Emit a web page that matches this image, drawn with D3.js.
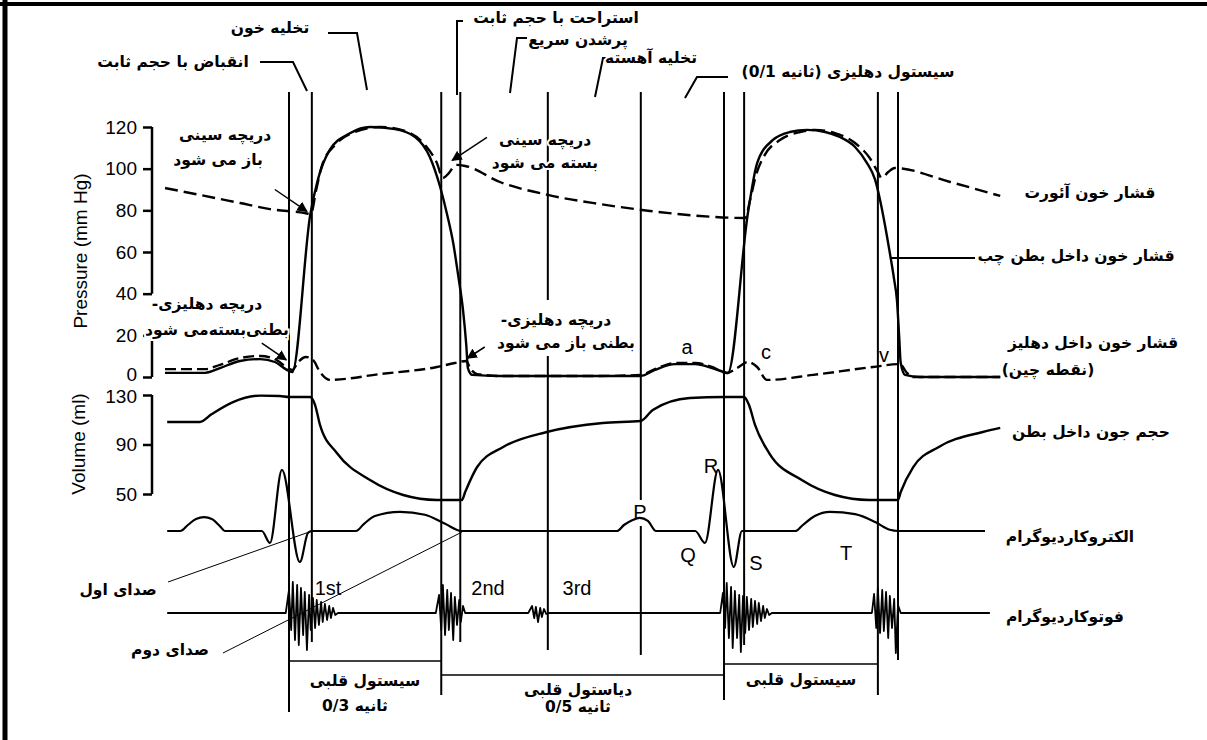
<!DOCTYPE html>
<html><head><meta charset="utf-8">
<script src="https://cdn.jsdelivr.net/npm/d3@7/dist/d3.min.js"></script>
<style>
body{margin:0;background:#fff}
svg{display:block}
.fa{font-family:"DejaVu Sans",sans-serif;font-weight:bold;font-size:15.5px;fill:#000}
.en{font-family:"Liberation Sans",Arial,sans-serif;fill:#000}
</style>
</head><body>
<svg id="c" width="1207" height="740"></svg>
<script>
// ---------------- DATA (time in ms, 0 = closure of the AV valve) ----------------
const eventTimes = [0, 42, 280, 315, 476, 647, 800, 837, 1083, 1120];
const pressureTicks = [0, 20, 40, 60, 80, 100, 120];
const volumeTicks = [50, 90, 130];

// aortic pressure (mm Hg)
const aorticPressure = [[-228,90.7],[-164,87.4],[-90,83.5],[-35,80.6],[29,78.7],[40,78.2],[50,89.8],[61,101.8],[85,111.4],[121,117.6],[167,120],[213,118.1],[250,111.4],[272,102.7],[283,95.5],[294,97.9],[307,101.8],[324,101.3],[388,93.6],[476,87.4],[572,83],[664,79.7],[756,77.3],[839,76.3],[848,85],[859,97],[875,106.6],[903,113.8],[940,117.6],[967,118.6],[1004,117.1],[1041,112.3],[1068,105.1],[1083,98.4],[1090,95.5],[1102,98.4],[1114,100.3],[1216,93.6],[1308,86.9]];
// left ventricular pressure (mm Hg)
const ventricularPressure = [[-228,2],[-154,2],[-127,4.3],[-90,7.7],[-53,8.6],[-26,7.2],[0,2.9],[6,2.4],[39,77.8],[53,94.6],[75,109],[112,117],[149,120],[195,119],[232,115.2],[259,105.6],[278,91.2],[291,77.8],[302,64.3],[311,49],[320,32.2],[326,15.4],[329,4.3],[337,1],[388,0.5],[572,0.5],[647,0.5],[673,3.4],[710,6.2],[747,6.2],[778,4.3],[800,2.4],[807,1.9],[844,78.7],[861,102.7],[890,113.8],[921,117.6],[953,118.6],[986,117.6],[1013,115.2],[1041,110.4],[1063,102.7],[1078,94.6],[1087,85],[1096,73],[1105,59.5],[1113,46.6],[1118,37],[1122,20.2],[1125,6.7],[1133,1],[1160,0],[1308,0]];
// left atrial pressure (mm Hg)
const atrialPressure = [[-228,3.8],[-154,3.8],[-127,5.8],[-90,9.1],[-53,10.1],[-26,8.6],[-2,4.3],[6,3.4],[17,7.2],[31,9.6],[44,8.2],[57,2.4],[75,-1.4],[167,1.4],[272,4.8],[305,6.7],[326,7.7],[333,4.3],[346,1.4],[388,0.5],[572,0.5],[647,1],[673,3.8],[710,6.7],[747,6.7],[778,4.8],[805,1.9],[824,4.3],[844,7.2],[861,4.8],[879,-1.4],[964,1],[1074,4.8],[1124,6.2],[1135,2.4],[1147,0],[1308,0]];
// ventricular volume (ml)
const ventricularVolume = [[-224,108.2],[-164,108.2],[-142,114.6],[-103,124.3],[-53,129.5],[-17,129.2],[0,128.4],[39,128.4],[48,121.9],[57,105.8],[88,83.1],[149,61.3],[210,49.2],[272,45.2],[318,45.2],[324,51.6],[346,71.8],[394,88],[474,100.1],[577,107.4],[647,109],[669,117.9],[737,127.6],[800,128.4],[837,128.4],[846,121.9],[857,105.8],[883,83.1],[943,61.3],[1004,49.2],[1067,45.2],[1120,45.2],[1125,51.6],[1148,71.8],[1195,88],[1276,100.1],[1308,103.4]];
// electrocardiogram (mV)
const ecg = [[-224,0],[-200,0],[-186,0.1],[-171,0.2],[-156,0.23],[-142,0.2],[-127,0.08],[-118,0],[-50,0],[-35,-0.2],[-13,1.02],[20,-0.52],[35,-0.03],[42,0],[123,0],[138,0.12],[158,0.25],[204,0.32],[250,0.27],[287,0.12],[318,0],[603,0],[616,0.1],[631,0.18],[645,0.22],[660,0.17],[675,0],[747,0],[765,-0.2],[789,1.02],[818,-0.6],[833,0],[931,0],[945,0.1],[967,0.25],[995,0.32],[1041,0.28],[1078,0.15],[1105,0.02],[1120,0],[1280,0]];
// phonocardiogram (arbitrary units)
const phono = [[-224,0],[-6,0],[0,2.3],[4,-1.7],[7,3.1],[11,-2.7],[15,2.8],[18,-3.2],[22,2.5],[26,-2.2],[29,2.1],[33,-3.7],[37,1.8],[40,-1.7],[44,1.5],[48,-1.5],[51,1.3],[55,-1.2],[59,1.1],[62,-0.9],[66,0.9],[70,-0.7],[74,0.7],[77,-0.5],[81,0.5],[85,-0.2],[90,0],
 [270,0],[276,1.8],[280,-1.7],[283,2.8],[287,-2.2],[291,2.3],[294,-1.7],[298,2.0],[302,-2.7],[305,1.6],[309,-1.2],[313,1.3],[316,-0.9],[320,0.7],[324,0],
 [440,0],[447,0.7],[451,-0.5],[454,0.6],[458,-0.9],[462,0.5],[465,-0.4],[469,0.4],[473,-0.1],[476,0],
 [793,0],[798,2.0],[802,-1.5],[805,3.0],[809,-2.5],[813,2.6],[816,-3.5],[820,2.2],[824,-2.5],[828,1.8],[831,-3.9],[835,1.7],[839,-2.0],[842,1.6],[846,-1.7],[850,1.4],[853,-1.4],[857,1.2],[861,-1.1],[864,1.0],[868,-0.8],[872,0.7],[875,-0.5],[879,0.4],[883,-0.2],[888,0],
 [1072,0],[1076,1.9],[1080,-1.5],[1083,2.5],[1087,-2.0],[1091,2.3],[1094,-1.8],[1098,2.1],[1102,-2.5],[1105,1.7],[1109,-1.5],[1113,1.4],[1116,-4.0],[1120,0.8],[1125,0],[1289,0]];

// ---------------- SCALES ----------------
const svg = d3.select("#c");
svg.append("rect").attr("width",1207).attr("height",740).attr("fill","#fff");
const x  = d3.scaleLinear().domain([0,800]).range([289,724]);
const yP = d3.scaleLinear().domain([0,120]).range([377,127]);
const yV = d3.scaleLinear().domain([50,130]).range([494,395]);
const yE = d3.scaleLinear().domain([0,1]).range([531,471]);
const yS = d3.scaleLinear().domain([0,1]).range([613,603]);

// frame
svg.append("line").attr("x1",0).attr("x2",1207).attr("y1",4).attr("y2",4).attr("stroke","#000").attr("stroke-width",4);
svg.append("line").attr("x1",5).attr("x2",5).attr("y1",0).attr("y2",740).attr("stroke","#000").attr("stroke-width",5);

// ---------------- VERTICAL EVENT LINES ----------------
// [event index, top, bottom] (pixel extents of each segment)
const vSegs = [[0,92,712],[1,92,642],[2,92,695],[3,92,642],[4,92,300],[4,356,650],
               [5,92,500],[5,526,655],[6,92,700],[7,92,645],[8,92,695],[9,92,660]];
svg.append("g").selectAll("line").data(vSegs).join("line")
  .attr("x1",d=>x(eventTimes[d[0]])).attr("x2",d=>x(eventTimes[d[0]]))
  .attr("y1",d=>d[1]).attr("y2",d=>d[2])
  .attr("stroke","#000").attr("stroke-width",2);

// phase brackets (bottom)
const phases = [[0,280,661],[280,800,675],[800,1083,664]];
svg.append("g").selectAll("line").data(phases).join("line")
  .attr("x1",d=>x(d[0])).attr("x2",d=>x(d[1])).attr("y1",d=>d[2]).attr("y2",d=>d[2])
  .attr("stroke","#000").attr("stroke-width",1.5);

// ---------------- AXES ----------------
const axP = svg.append("g").attr("transform","translate(152,0)")
  .call(d3.axisLeft(yP).tickValues(pressureTicks).tickSize(9).tickPadding(6));
const axV = svg.append("g").attr("transform","translate(152,0)")
  .call(d3.axisLeft(yV).tickValues(volumeTicks).tickSize(9).tickPadding(6));
[axP,axV].forEach(a=>{
  a.select(".domain").remove();
  a.selectAll("line").attr("stroke","#000").attr("stroke-width",2.5);
  a.selectAll("text").attr("class","en").style("font-size","19px").attr("fill","#000");
});
axP.selectAll(".tick").filter(d=>d===0).select("text").attr("dy","0.2em");
axV.selectAll(".tick").filter(d=>d===130).select("text").attr("dy","0.42em");
const axisSegs = [[yP(120),yP(40)],[yP(20),yP(0)],[yV(130),yV(50)]];
svg.append("g").selectAll("line").data(axisSegs).join("line")
  .attr("x1",152).attr("x2",152).attr("y1",d=>d[0]).attr("y2",d=>d[1])
  .attr("stroke","#000").attr("stroke-width",2.5);
svg.append("text").attr("class","en").attr("transform","translate(87,251) rotate(-90)")
  .attr("text-anchor","middle").style("font-size","19px").text("Pressure (mm Hg)");
svg.append("text").attr("class","en").attr("transform","translate(85,444) rotate(-90)")
  .attr("text-anchor","middle").style("font-size","19px").text("Volume (ml)");

// ---------------- CURVES ----------------
const mk = (ys, curve) => d3.line().x(d=>x(d[0])).y(d=>ys(d[1])).curve(curve||d3.curveMonotoneX);
const g = svg.append("g").attr("fill","none").attr("stroke","#000").attr("stroke-linejoin","round");
g.append("path").attr("d",mk(yP)(ventricularPressure)).attr("stroke-width",2.4);
g.append("path").attr("d",mk(yP)(aorticPressure)).attr("stroke-width",2.4).attr("stroke-dasharray","13,6");
g.append("path").attr("d",mk(yP)(atrialPressure)).attr("stroke-width",2.4).attr("stroke-dasharray","11,5");
g.append("path").attr("d",mk(yV)(ventricularVolume)).attr("stroke-width",2.4);
g.append("path").attr("d",mk(yE)(ecg)).attr("stroke-width",2.2);
g.append("path").attr("d",mk(yS,d3.curveLinear)(phono)).attr("stroke-width",1.8);

// ---------------- ANNOTATIONS ----------------
svg.append("defs").append("marker").attr("id","ah").attr("viewBox","0 0 10 10")
  .attr("refX",9).attr("refY",5).attr("markerWidth",7).attr("markerHeight",7).attr("orient","auto")
  .append("path").attr("d","M0,0 L10,5 L0,10 z").attr("fill","#000");

const arrows = [ // [tail ms, tail mmHg, head ms, head mmHg]
  [-26,90,33,79.5],[364,115,300,104],[-50,16.3,-5,8.2],[360,14.4,328,9]
];
svg.append("g").selectAll("line").data(arrows).join("line")
  .attr("x1",d=>x(d[0])).attr("y1",d=>yP(d[1])).attr("x2",d=>x(d[2])).attr("y2",d=>yP(d[3]))
  .attr("stroke","#000").attr("stroke-width",1.5).attr("marker-end","url(#ah)");

const leaders = [
  [[328,33],[357,33],[367,90]],
  [[260,62],[293,62],[307,91]],
  [[463,21],[457,21],[457,95]],
  [[527,38],[517,38],[510,93]],
  [[610,58],[603,58],[595,97]],
  [[728,77],[697,77],[685,98]],
  [[890,258],[975,258]]
];
svg.append("g").selectAll("path").data(leaders).join("path")
  .attr("d",d=>d3.line()(d)).attr("fill","none").attr("stroke","#000").attr("stroke-width",2);
const thin = [[[168,582],[312,531]],[[223,653],[462,532]]];
svg.append("g").selectAll("path").data(thin).join("path")
  .attr("d",d=>d3.line()(d)).attr("fill","none").attr("stroke","#000").attr("stroke-width",1);

const faLabels = [
  ["تخلیه خون",270,33],
  ["انقباض با حجم ثابت",173,67],
  ["استراحت با حجم ثابت",556,23],
  ["پرشدن سریع",578,45],
  ["تخلیه آهسته",651,63],
  ["سیستول دهلیزی (ثانیه 0/1)",848,77],
  ["دریچه سینی",225,140],["باز می شود",218,165],
  ["دریچه سینی",545,145],["بسته می شود",545,168],
  ["دریچه دهلیزی-",207,309],["بطنی‌بسته‌می شود",217,335],
  ["دریچه دهلیزی-",556,325],["بطنی باز می شود",566,348],
  ["قشار خون آئورت",1090,198],
  ["قشار خون داخل بطن چب",1076,261],
  ["قشار خون  داخل دهلیز",1093,348],
  ["(نقطه چین)",1048,375],
  ["حجم جون داخل بطن",1091,437],
  ["الکتروکاردیوگرام",1070,542],
  ["فوتوکاردیوگرام",1065,622],
  ["صدای اول",118,595],
  ["صدای دوم",170,655],
  ["سیستول قلبی",365,686],["ثانیه 0/3",355,711],
  ["دیاستول قلبی",578,695],["ثانیه 0/5",578,712],
  ["سیستول قلبی",801,685]
];
svg.append("g").selectAll("text").data(faLabels).join("text")
  .attr("class","fa").attr("direction","rtl").attr("text-anchor","middle")
  .attr("x",d=>d[1]).attr("y",d=>d[2])
  .attr("stroke","#fff").attr("stroke-width",4).attr("paint-order","stroke")
  .text(d=>d[0]);

const enLabels = [
  ["a",687,354],["c",766,359],["v",884,362],
  ["P",640,519],["Q",688,562],["R",711,473],["S",756,570],["T",846,560],
  ["1st",328,595],["2nd",488,595],["3rd",577,595]
];
svg.append("g").selectAll("text").data(enLabels).join("text")
  .attr("class","en").attr("text-anchor","middle").style("font-size","20px")
  .attr("x",d=>d[1]).attr("y",d=>d[2]).text(d=>d[0]);
</script>
</body></html>
